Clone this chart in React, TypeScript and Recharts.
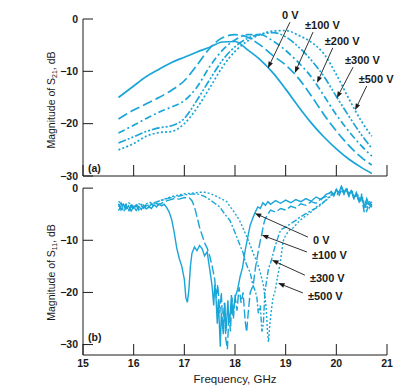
import { Line, LineChart, ReferenceDot, ReferenceLine, XAxis, YAxis } from "recharts";

const CYAN = "#19a5d8";
const INK = "#1a1a1a";
const FONT = '"Liberation Sans", Arial, Helvetica, sans-serif';

const FREQ_TICKS = [15, 16, 17, 18, 19, 20, 21];
const S21_TICKS = [0, -10, -20, -30];
const S11_TICKS = [0, -10, -20, -30];

// (a) transmission, sampled on a common frequency grid (GHz / dB)
const S21_FREQ = [
  15.7, 16.0, 16.25, 16.5, 16.75, 17.0, 17.25, 17.5, 17.75, 18.0, 18.25,
  18.5, 18.75, 19.0, 19.25, 19.5, 19.75, 20.0, 20.25, 20.5, 20.7,
];
const S21_0V = [
  -15.0, -12.8, -11.0, -9.6, -8.3, -7.3, -6.3, -5.4, -4.4, -4.3, -5.9,
  -7.8, -10.3, -13.4, -16.7, -19.8, -22.5, -24.8, -26.8, -28.4, -29.5,
];
const S21_100V = [
  -19.1, -17.4, -16.2, -15.0, -13.6, -11.8, -8.8, -5.6, -3.6, -3.0, -3.5,
  -5.0, -7.0, -8.8, -11.3, -14.6, -18.2, -21.4, -24.2, -26.5, -27.9,
];
const S21_200V = [
  -21.8, -20.3, -19.0, -17.8, -16.8, -15.6, -13.0, -9.1, -6.0, -4.0, -3.0,
  -3.0, -4.2, -6.0, -8.3, -11.0, -14.6, -18.3, -21.5, -24.3, -26.2,
];
const S21_300V = [
  -23.7, -22.5, -21.5, -20.8, -20.4, -19.0, -15.5, -11.6, -7.9, -5.3, -3.7,
  -2.9, -2.6, -3.4, -5.3, -7.8, -10.9, -14.8, -18.6, -22.2, -24.7,
];
const S21_500V = [
  -25.0, -23.8, -22.4, -21.7, -21.5, -20.0, -17.0, -13.2, -9.2, -6.2, -4.2,
  -3.0, -2.3, -2.2, -3.1, -4.4, -6.6, -10.6, -15.3, -19.6, -22.4,
];

// (b) reflection, read point by point (GHz, dB)
const S11_0V = [
  [15.7, -3.0], [15.75, -4.2], [15.8, -3.1], [15.85, -4.0], [15.9, -3.4], [15.95, -4.4],
  [16.0, -3.6], [16.05, -4.3], [16.1, -3.5], [16.15, -4.1], [16.2, -3.3], [16.25, -4.0],
  [16.3, -3.6], [16.35, -3.9], [16.4, -3.2], [16.45, -3.6], [16.5, -3.0], [16.55, -3.4],
  [16.6, -3.1], [16.65, -3.7], [16.7, -4.6], [16.75, -6.0], [16.8, -8.5], [16.85, -11.5],
  [16.9, -13.5], [16.95, -15.0], [17.0, -17.5], [17.03, -21.0], [17.06, -21.9], [17.09, -19.5],
  [17.12, -15.0], [17.15, -12.5], [17.2, -11.3], [17.25, -12.0], [17.3, -11.0], [17.35, -11.6],
  [17.4, -13.0], [17.45, -12.2], [17.5, -15.5], [17.53, -17.5], [17.55, -19.0], [17.58, -22.5],
  [17.6, -18.5], [17.62, -20.0], [17.65, -26.0], [17.67, -21.5], [17.68, -23.5], [17.71, -30.4],
  [17.73, -24.0], [17.74, -25.0], [17.77, -28.0], [17.8, -22.0], [17.82, -27.5], [17.83, -26.5],
  [17.86, -21.5], [17.88, -26.0], [17.9, -25.0], [17.93, -20.5], [17.96, -24.5], [18.0, -21.0],
  [18.05, -19.5], [18.1, -17.0], [18.15, -15.2], [18.2, -12.0], [18.25, -9.5], [18.3, -7.1],
  [18.35, -5.8], [18.4, -4.6], [18.45, -3.6], [18.5, -3.9], [18.55, -2.8], [18.6, -3.3],
  [18.65, -2.6], [18.7, -3.1], [18.8, -2.4], [18.9, -2.9], [19.0, -2.3], [19.1, -2.8],
  [19.2, -2.2], [19.3, -2.6], [19.4, -2.0], [19.5, -2.5], [19.6, -1.7], [19.7, -2.2],
  [19.8, -1.2], [19.9, -0.8], [19.95, -1.5], [20.0, -0.3], [20.05, -1.0], [20.1, 0.4],
  [20.15, -0.8], [20.2, -0.2], [20.25, -1.4], [20.3, -0.5], [20.35, -1.8], [20.4, -1.0],
  [20.45, -2.4], [20.5, -1.6], [20.55, -3.6], [20.6, -2.0], [20.65, -3.2], [20.7, -2.6],
];
const S11_100V = [
  [15.7, -3.6], [15.75, -2.8], [15.8, -4.0], [15.85, -3.2], [15.9, -4.5], [15.95, -3.5],
  [16.0, -4.1], [16.05, -3.3], [16.1, -4.2], [16.15, -3.4], [16.2, -3.9], [16.25, -3.1],
  [16.3, -3.7], [16.35, -3.0], [16.4, -3.5], [16.45, -2.9], [16.5, -3.2], [16.6, -2.6],
  [16.7, -2.3], [16.8, -2.0], [16.9, -2.1], [17.0, -1.8], [17.1, -1.9], [17.15, -2.4],
  [17.2, -3.6], [17.25, -5.5], [17.3, -7.5], [17.35, -9.0], [17.4, -10.5], [17.45, -11.5],
  [17.5, -13.0], [17.55, -15.0], [17.6, -17.5], [17.63, -21.0], [17.66, -18.5], [17.7, -24.0],
  [17.73, -20.0], [17.76, -27.0], [17.79, -22.0], [17.82, -29.0], [17.85, -30.9], [17.88, -24.0],
  [17.91, -27.5], [17.94, -21.0], [17.97, -25.0], [18.0, -20.5], [18.04, -23.5], [18.08, -19.0],
  [18.12, -22.0], [18.16, -20.0], [18.2, -25.5], [18.23, -27.6], [18.26, -24.0], [18.3, -20.0],
  [18.36, -18.6], [18.4, -15.5], [18.45, -12.6], [18.5, -10.0], [18.53, -8.8], [18.56, -7.1],
  [18.6, -5.8], [18.65, -5.0], [18.7, -4.2], [18.8, -4.6], [18.9, -3.9], [19.0, -4.2],
  [19.1, -3.5], [19.2, -3.8], [19.3, -3.0], [19.4, -3.3], [19.5, -2.6], [19.6, -2.9],
  [19.7, -2.0], [19.8, -1.6], [19.9, -0.6], [19.95, -1.3], [20.0, -0.2], [20.05, -0.9],
  [20.1, 0.2], [20.15, -1.1], [20.2, -0.4], [20.25, -1.6], [20.3, -0.7], [20.35, -2.2],
  [20.4, -1.2], [20.45, -2.8], [20.5, -1.9], [20.55, -4.6], [20.6, -2.6], [20.65, -3.8],
  [20.7, -3.0],
];
const S11_300V = [
  [15.7, -4.3], [15.75, -3.4], [15.8, -4.5], [15.85, -3.7], [15.9, -4.2], [15.95, -3.2],
  [16.0, -3.9], [16.05, -3.0], [16.1, -3.8], [16.15, -3.1], [16.2, -3.6], [16.3, -3.2],
  [16.4, -2.8], [16.5, -2.5], [16.6, -2.2], [16.7, -1.9], [16.8, -1.7], [16.9, -1.5],
  [17.0, -1.3], [17.1, -1.2], [17.2, -1.1], [17.3, -1.2], [17.4, -1.6], [17.5, -2.2],
  [17.6, -2.9], [17.7, -3.6], [17.8, -5.0], [17.9, -6.2], [18.0, -8.5], [18.1, -11.0],
  [18.16, -12.4], [18.2, -14.0], [18.25, -15.2], [18.3, -16.2], [18.35, -18.5], [18.4, -19.8],
  [18.43, -20.8], [18.46, -24.0], [18.5, -22.5], [18.53, -27.5], [18.56, -26.0], [18.59, -20.0],
  [18.62, -18.0], [18.66, -15.5], [18.72, -13.8], [18.78, -11.5], [18.85, -9.4], [18.9, -8.0],
  [19.0, -7.5], [19.1, -6.8], [19.2, -6.2], [19.28, -5.6], [19.4, -4.9], [19.5, -4.3],
  [19.61, -3.8], [19.7, -3.2], [19.8, -2.2], [19.9, -1.3], [20.0, -0.8], [20.05, -1.6],
  [20.1, -0.3], [20.15, -1.2], [20.2, 0.1], [20.25, -1.0], [20.3, -0.6], [20.35, -1.9],
  [20.4, -0.9], [20.45, -2.6], [20.5, -1.5], [20.55, -3.4], [20.6, -4.4], [20.65, -2.8],
  [20.7, -3.7],
];
const S11_500V = [
  [15.7, -2.5], [15.8, -3.3], [15.9, -2.8], [16.0, -3.5], [16.1, -3.0], [16.2, -3.3],
  [16.3, -2.7], [16.4, -2.9], [16.5, -2.5], [16.6, -2.1], [16.7, -1.8], [16.8, -1.5],
  [16.9, -1.3], [17.0, -1.1], [17.1, -1.0], [17.2, -0.9], [17.3, -0.8], [17.4, -0.8],
  [17.5, -1.0], [17.6, -1.4], [17.7, -1.9], [17.84, -2.6], [17.9, -3.5], [18.0, -4.8],
  [18.1, -6.4], [18.2, -8.6], [18.3, -10.9], [18.36, -12.5], [18.43, -14.1], [18.5, -16.2],
  [18.56, -18.6], [18.6, -21.5], [18.62, -23.7], [18.64, -27.5], [18.66, -29.5], [18.68, -27.0],
  [18.71, -24.0], [18.75, -21.0], [18.79, -19.8], [18.84, -17.0], [18.89, -14.5], [18.95, -10.2],
  [19.0, -9.0], [19.08, -8.0], [19.15, -7.6], [19.28, -6.2], [19.4, -5.3], [19.5, -4.6],
  [19.61, -3.6], [19.7, -3.0], [19.8, -2.3], [19.87, -1.7], [19.95, -1.0], [20.0, -0.5],
  [20.05, -1.2], [20.1, 0.0], [20.15, -0.7], [20.2, -0.1], [20.25, -1.3], [20.3, -0.3],
  [20.35, -1.5], [20.4, -0.8], [20.45, -2.0], [20.5, -1.2], [20.55, -2.9], [20.6, -3.8],
  [20.65, -2.4], [20.7, -3.4],
];

// arrow callouts: tail (where the label sits) -> tip (on the curve), data coords
const S21_NOTES = [
  { label: "0 V", tail: [19.085, -0.6], tip: [18.65, -9.4] },
  { label: "±100 V", tail: [19.54, -2.5], tip: [19.18, -10.3] },
  { label: "±200 V", tail: [19.93, -5.5], tip: [19.62, -12.2] },
  { label: "±300 V", tail: [20.33, -9.2], tip: [20.01, -15.1] },
  { label: "±500 V", tail: [20.6, -12.8], tip: [20.37, -17.4] },
];
const S11_NOTES = [
  { label: "0 V", tail: [19.44, -9.4], tip: [18.39, -4.8] },
  { label: "±100 V", tail: [19.42, -12.25], tip: [18.53, -9.0] },
  { label: "±300 V", tail: [19.38, -16.7], tip: [18.73, -13.8] },
  { label: "±500 V", tail: [19.34, -20.1], tip: [18.85, -18.2] },
];

const S21_SERIES = [
  { name: "0 V", values: S21_0V, dash: undefined },
  { name: "±100 V", values: S21_100V, dash: "10 4" },
  { name: "±200 V", values: S21_200V, dash: "7 3 2 3" },
  { name: "±300 V", values: S21_300V, dash: "8 2 2 2 2 2" },
  { name: "±500 V", values: S21_500V, dash: "2 2.2" },
];
const S11_SERIES = [
  { name: "0 V", points: S11_0V, dash: undefined },
  { name: "±100 V", points: S11_100V, dash: "9 3" },
  { name: "±300 V", points: S11_300V, dash: "6 2 2 2" },
  { name: "±500 V", points: S11_500V, dash: "2 2" },
];

const fmt = (v: number) => (v < 0 ? `\u2212${-v}` : `${v}`);

function XTick(props: any) {
  const { x, y, payload, showLabel } = props;
  return (
    <g>
      <line x1={x} y1={y} x2={x} y2={y - 11} stroke={INK} strokeWidth={1} />
      {showLabel && (
        <text x={x} y={y + 12} textAnchor="middle" fontSize={10.5} fontWeight="bold" fontFamily={FONT} fill={INK}>
          {payload.value}
        </text>
      )}
    </g>
  );
}

function YTick(props: any) {
  const { x, y, payload } = props;
  return (
    <g>
      <line x1={x} y1={y} x2={x + 10} y2={y} stroke={INK} strokeWidth={1} />
      <text x={x - 5} y={y} dy="0.36em" textAnchor="end" fontSize={10.5} fontWeight="bold" fontFamily={FONT} fill={INK}>
        {fmt(payload.value)}
      </text>
    </g>
  );
}

function yTitle(sub: string) {
  return (p: any) => {
    const vb = p.viewBox || {};
    const cx = 55;
    const cy = (vb.y ?? 0) + (vb.height ?? 0) / 2 + 2.5;
    return (
      <text transform={`translate(${cx},${cy}) rotate(-90)`} textAnchor="middle" fontSize={10.5} fontFamily={FONT} fill={INK}>
        Magnitude of S<tspan fontSize={7} dy={2}>{sub}</tspan>
        <tspan dy={-2}>, dB</tspan>
      </text>
    );
  };
}

function arrow(label: string, dx: number, dy: number) {
  return (p: any) => {
    const { x1, y1, x2, y2 } = p;
    if ([x1, y1, x2, y2].some((v) => typeof v !== "number" || isNaN(v))) return null;
    const a = Math.atan2(y2 - y1, x2 - x1);
    const len = 6.5;
    const half = 2.4;
    const bx = x2 - len * Math.cos(a);
    const by = y2 - len * Math.sin(a);
    const nx = -Math.sin(a) * half;
    const ny = Math.cos(a) * half;
    return (
      <g>
        <line x1={x1} y1={y1} x2={bx} y2={by} stroke={INK} strokeWidth={0.9} />
        <polygon points={`${x2},${y2} ${bx + nx},${by + ny} ${bx - nx},${by - ny}`} fill={INK} />
        <text x={x1 + dx} y={y1 + dy} fontSize={11} fontWeight="bold" fontFamily={FONT} fill={INK}>
          {label}
        </text>
      </g>
    );
  };
}

const panelLabel = (text: string) => ({
  value: text,
  position: "right" as const,
  offset: 5,
  fontSize: 10.5,
  fontWeight: "bold",
  fontFamily: FONT,
  fill: INK,
});

export default function App() {
  return (
    <div style={{ position: "absolute", left: 0, top: 0, width: 406, height: 390, background: "#fff" }}>
      <div style={{ position: "absolute", left: 0, top: 0 }}>
        <LineChart width={406} height={190} margin={{ top: 19, right: 19, bottom: 0, left: 43 }}>
          <XAxis
            type="number"
            dataKey="x"
            domain={[15, 21]}
            ticks={FREQ_TICKS}
            interval={0}
            height={14}
            tickSize={0}
            tickMargin={0}
            tickLine={false}
            axisLine={{ stroke: INK }}
            tick={(p: any) => <XTick {...p} showLabel={false} />}
          />
          <YAxis
            type="number"
            domain={[-30, 0]}
            ticks={S21_TICKS}
            interval={0}
            width={40}
            tickSize={0}
            tickMargin={0}
            tickLine={false}
            axisLine={{ stroke: INK }}
            tick={(p: any) => <YTick {...p} />}
            label={yTitle("21")}
          />
          {S21_SERIES.map((s) => (
            <Line
              key={s.name}
              name={s.name}
              data={S21_FREQ.map((f, i) => ({ x: f, y: s.values[i] }))}
              dataKey="y"
              type="monotone"
              stroke={CYAN}
              strokeWidth={1.7}
              strokeDasharray={s.dash}
              dot={false}
              isAnimationActive={false}
            />
          ))}
          {S21_NOTES.map((n) => (
            <ReferenceLine
              key={n.label}
              segment={[{ x: n.tail[0], y: n.tail[1] }, { x: n.tip[0], y: n.tip[1] }]}
              ifOverflow="visible"
              shape={arrow(n.label, -8, -3)}
            />
          ))}
          <ReferenceDot x={15} y={-28.5} r={0} fill="none" stroke="none" ifOverflow="visible" label={panelLabel("(a)")} />
        </LineChart>
      </div>
      <div style={{ position: "absolute", left: 0, top: 180 }}>
        <LineChart width={406} height={210} margin={{ top: 5, right: 19, bottom: 0, left: 43 }}>
          <XAxis
            type="number"
            dataKey="x"
            domain={[15, 21]}
            ticks={FREQ_TICKS}
            interval={0}
            height={35}
            tickSize={0}
            tickMargin={0}
            tickLine={false}
            axisLine={{ stroke: INK }}
            tick={(p: any) => <XTick {...p} showLabel />}
            label={(p: any) => {
              const vb = p.viewBox || {};
              return (
                <text
                  x={(vb.x ?? 0) + (vb.width ?? 0) / 2}
                  y={(vb.y ?? 0) + 28}
                  textAnchor="middle"
                  fontSize={11.5}
                  fontFamily={FONT}
                  fill={INK}
                >
                  Frequency, GHz
                </text>
              );
            }}
          />
          <YAxis
            type="number"
            domain={[-32, 0.6]}
            allowDataOverflow
            ticks={S11_TICKS}
            interval={0}
            width={40}
            tickSize={0}
            tickMargin={0}
            tickLine={false}
            axisLine={false}
            tick={(p: any) => <YTick {...p} />}
            label={yTitle("11")}
          />
          <ReferenceLine
            segment={[{ x: 15, y: -32 }, { x: 15, y: 0 }]}
            stroke={INK}
            strokeWidth={1}
            ifOverflow="visible"
          />
          {S11_SERIES.map((s) => (
            <Line
              key={s.name}
              name={s.name}
              data={s.points.map(([f, v]) => ({ x: f, y: v }))}
              dataKey="y"
              type="linear"
              stroke={CYAN}
              strokeWidth={1.4}
              strokeDasharray={s.dash}
              dot={false}
              isAnimationActive={false}
            />
          ))}
          {S11_NOTES.map((n) => (
            <ReferenceLine
              key={n.label}
              segment={[{ x: n.tail[0], y: n.tail[1] }, { x: n.tip[0], y: n.tip[1] }]}
              ifOverflow="visible"
              shape={arrow(n.label, 5, 7)}
            />
          ))}
          <ReferenceDot x={15} y={-28.55} r={0} fill="none" stroke="none" ifOverflow="visible" label={panelLabel("(b)")} />
        </LineChart>
      </div>
    </div>
  );
}
